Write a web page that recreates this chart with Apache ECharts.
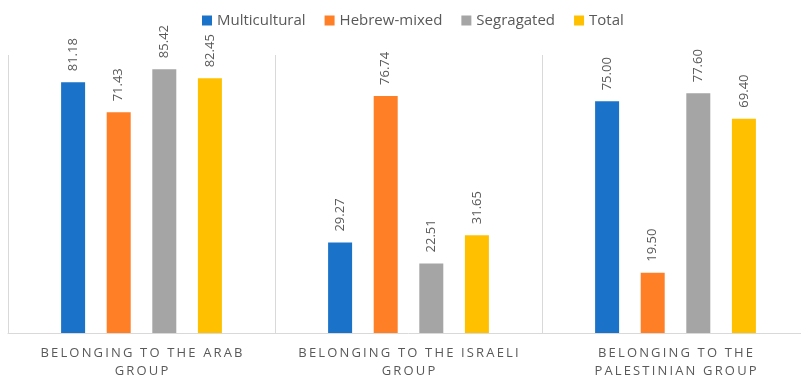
<!DOCTYPE html>
<html>
<head>
<meta charset="utf-8">
<script src="https://cdn.jsdelivr.net/npm/echarts@6/dist/echarts.min.js"></script>
<style>
  html, body { margin: 0; padding: 0; background: #fff; }
  body { width: 801px; height: 378px; overflow: hidden; }
  /* the plot runs slightly past the right edge of the page */
  #chart { width: 809px; height: 378px; }
</style>
</head>
<body>
<div id="chart"></div>
<script>
// Category labels (two lines each)
const categories = [
  'BELONGING TO THE ARAB\nGROUP',
  'BELONGING TO THE ISRAELI\nGROUP',
  'BELONGING TO THE\nPALESTINIAN GROUP'
];

// Series values per category
const multicultural = [81.18, 29.27, 75.00];
const hebrewMixed   = [71.43, 76.74, 19.50];
const segragated    = [85.42, 22.51, 77.60];
const total         = [82.45, 31.65, 69.40];

const seriesNames  = ['Multicultural', 'Hebrew-mixed', 'Segragated', 'Total'];
const seriesValues = [multicultural, hebrewMixed, segragated, total];
const seriesColors = ['#1A73C8', '#FF7F27', '#A5A5A5', '#FFC000'];

const FONT = '"Open Sans", "Noto Sans", sans-serif';
const TEXT_GRAY = '#595959';

// spread capital letters apart with thin spaces
function spaced(s) {
  return s.split('\n').map(line => line.split('').join('\u2009')).join('\n');
}

const chart = echarts.init(document.getElementById('chart'), null, { renderer: 'canvas' });

chart.setOption({
  animation: false,
  backgroundColor: '#ffffff',
  legend: {
    top: 8,
    left: 197,
    itemWidth: 10,
    itemHeight: 10,
    itemGap: 19,
    icon: 'rect',
    textStyle: { fontFamily: FONT, fontSize: 15, color: TEXT_GRAY },
    data: seriesNames
  },
  grid: {
    left: 8, top: 55, right: 0, bottom: 45,
    containLabel: false,
    outerBoundsMode: 'none'
  },
  xAxis: {
    type: 'category',
    data: categories,
    axisLine: { lineStyle: { color: '#D9D9D9', width: 1 } },
    axisTick: { show: false },
    splitLine: { show: true, lineStyle: { color: '#D9D9D9', width: 1 } },
    axisLabel: {
      interval: 0,
      hideOverlap: false,
      margin: 11,
      fontFamily: FONT,
      fontSize: 13,
      lineHeight: 18,
      color: TEXT_GRAY,
      formatter: v => spaced(v)
    }
  },
  yAxis: {
    type: 'value',
    min: 0,
    max: 90,
    show: false,
    splitLine: { show: false }
  },
  series: seriesNames.map((name, i) => ({
    name: name,
    type: 'bar',
    data: seriesValues[i],
    barWidth: 24,
    barGap: '90%',
    itemStyle: { color: seriesColors[i] },
    label: {
      show: true,
      position: 'top',
      rotate: 90,
      align: 'left',
      verticalAlign: 'middle',
      distance: 11,
      fontFamily: FONT,
      fontSize: 13,
      color: TEXT_GRAY,
      formatter: p => p.value.toFixed(2)
    }
  }))
});
</script>
</body>
</html>
